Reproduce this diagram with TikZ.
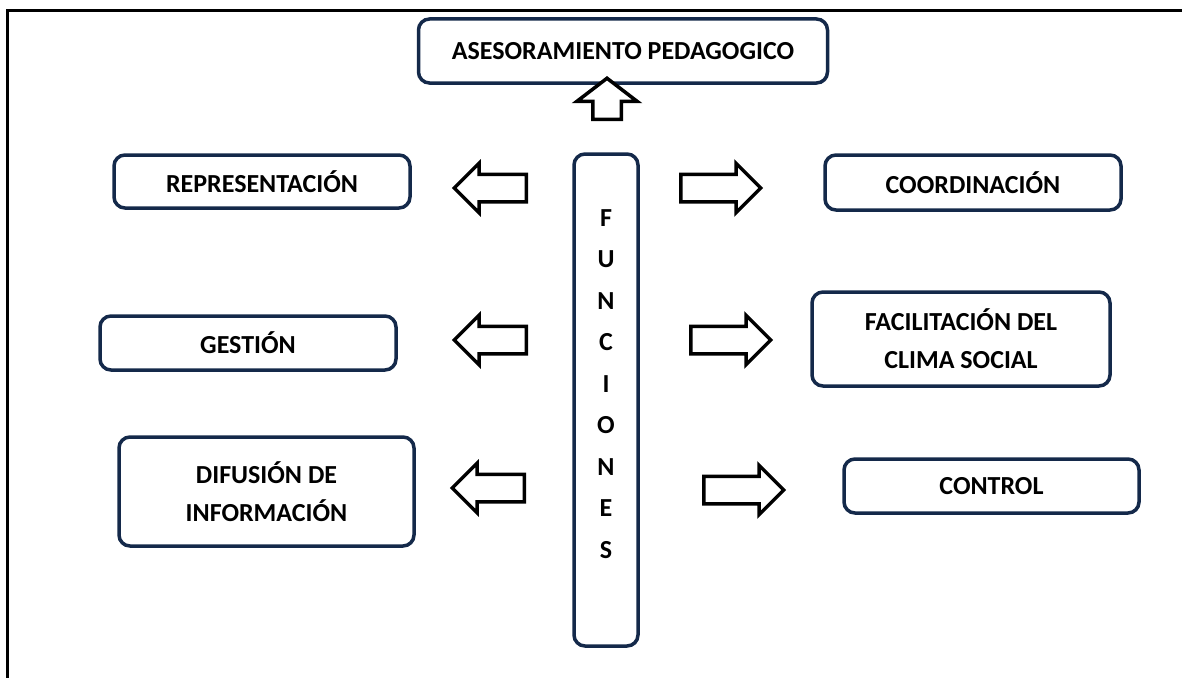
\documentclass[tikz,border=0pt]{standalone}
\usepackage{fontspec}
\setmainfont{Carlito}
\usetikzlibrary{shapes.arrows}
\definecolor{marco}{HTML}{14294A}
\begin{document}
\begin{tikzpicture}[
  x=1pt,y=-1pt,
  font=\fontsize{26}{38}\selectfont\bfseries,
  cuadro/.style={draw=marco,line width=3.5pt,rounded corners=11pt,align=center,inner sep=0pt},
  flecha/.style={single arrow,draw,line width=3.5pt,fill=white,inner sep=12pt,anchor=tail,
    single arrow head extend=11pt,single arrow tip angle=90,minimum height=72pt}
]
  \useasboundingbox (0,0) rectangle (1182,677);
  \draw[line width=3pt] (7,690) -- (7,11) -- (1195,11);

  \node[cuadro,minimum width=409pt,minimum height=64pt] (asesor) at (623,51)
    {ASESORAMIENTO PEDAGOGICO};
  \node[cuadro,minimum width=64pt,minimum height=492pt] (funciones) at (606,400) {};
  \node[align=center,font=\fontsize{26}{41.5}\selectfont\bfseries] (letras) at (606,384)
    {F\\U\\N\\C\\I\\O\\N\\E\\S};

  \node[cuadro,minimum width=296pt,minimum height=53pt] (repre) at (262,181.5) {REPRESENTACIÓN};
  \node[cuadro,minimum width=296pt,minimum height=54pt] (gestion) at (248,343) {GESTIÓN};
  \node[cuadro,minimum width=295pt,minimum height=109pt] (difusion) at (266.5,491.5)
    {DIFUSIÓN DE\\INFORMACIÓN};
  \node[cuadro,minimum width=296pt,minimum height=55pt] (coord) at (973,182.5) {COORDINACIÓN};
  \node[cuadro,minimum width=298pt,minimum height=94pt] (facil) at (961,339)
    {FACILITACIÓN DEL\\CLIMA SOCIAL};
  \node[cuadro,minimum width=295pt,minimum height=54pt] (control) at (991.5,486) {CONTROL};

  \node[flecha,shape border rotate=90,minimum height=41pt,inner sep=12.5pt,
    single arrow head extend=16pt,single arrow tip angle=105] (arriba) at (607,121) {};
  \node[flecha,shape border rotate=180] (izq1) at (528,188) {};
  \node[flecha,shape border rotate=180] (izq2) at (528,340) {};
  \node[flecha,shape border rotate=180] (izq3) at (526,488) {};
  \node[flecha,minimum height=80pt] (der1) at (679,188) {};
  \node[flecha,minimum height=80pt] (der2) at (689,340) {};
  \node[flecha,minimum height=80pt] (der3) at (702,490) {};
\end{tikzpicture}
\end{document}
